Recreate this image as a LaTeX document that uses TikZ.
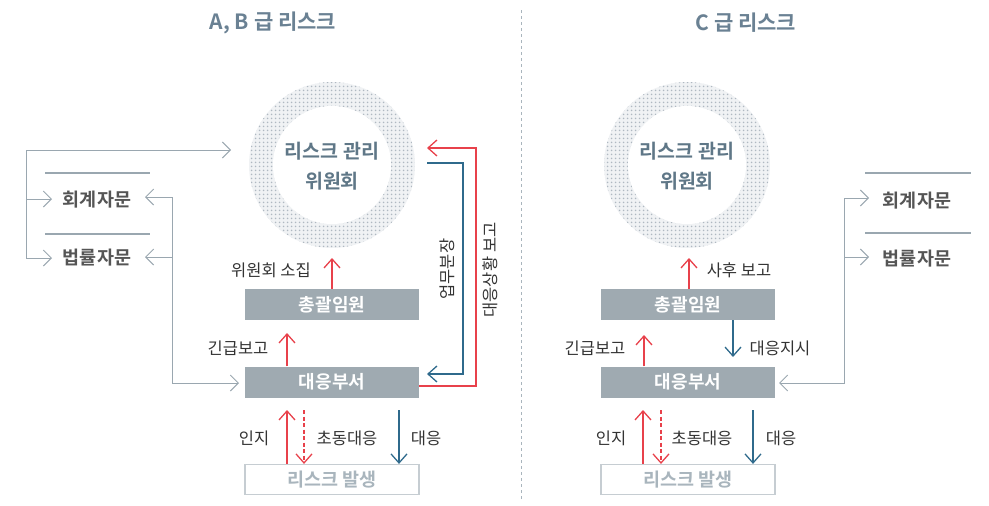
\documentclass[tikz,border=0pt]{standalone}
\usepackage{fontspec}
\setmainfont{Noto Sans CJK KR}[BoldFont={Noto Sans CJK KR Bold}]
\usetikzlibrary{arrows.meta,patterns.meta}
\definecolor{titleC}{HTML}{6A8193}
\definecolor{circC}{HTML}{5F7787}
\definecolor{boxC}{HTML}{9FAAB1}
\definecolor{redC}{HTML}{E8414B}
\definecolor{blueC}{HTML}{2F6A8C}
\definecolor{grayC}{HTML}{9AA7B0}
\definecolor{txtC}{HTML}{333333}
\definecolor{advC}{HTML}{555555}
\definecolor{riskC}{HTML}{A9B5BD}
\definecolor{riskB}{HTML}{C6CDD2}
\definecolor{dotC}{HTML}{AFB8C1}
\definecolor{ringC}{HTML}{F0F2F4}
\tikzset{
  tipg/.tip={Straight Barb[length=8pt,width=16pt]},
  tipc/.tip={Straight Barb[length=9pt,width=16pt]},
  titlenode/.style={font=\bfseries\fontsize{21}{24}\selectfont, text=titleC},
  circtext/.style={font=\bfseries\fontsize{19.5}{30}\selectfont, text=circC, align=center},
  ringbg/.style={circle, minimum size=166pt, inner sep=0pt, fill=ringC},
  ring/.style={circle, minimum size=166pt, inner sep=0pt, pattern={Dots[distance=4pt,radius=1.1pt]}, pattern color=dotC},
  hole/.style={circle, minimum size=118pt, inner sep=0pt, fill=white},
  graybox/.style={minimum width=174pt, minimum height=31pt, inner sep=0pt, fill=boxC, text=white, font=\bfseries\fontsize{18}{20}\selectfont},
  riskbox/.style={minimum width=174pt, minimum height=30pt, inner sep=0pt, fill=white, draw=riskB, line width=1.2pt, text=riskC, font=\bfseries\fontsize{18.5}{20}\selectfont},
  lbl/.style={text=txtC, font=\fontsize{16.5}{18}\selectfont, inner sep=0pt},
  adv/.style={text=advC, font=\bfseries\fontsize{18.5}{20}\selectfont, inner sep=0pt},
  gcon/.style={draw=grayC, line width=1pt},
  rarr/.style={draw=redC, line width=1.3pt, -tipc},
  barr/.style={draw=blueC, line width=1.3pt, -tipc},
  rule/.style={draw=grayC, line width=1.6pt},
}
\begin{document}
\begin{tikzpicture}[x=1pt,y=-1pt]
\useasboundingbox (0,0) rectangle (989,506);
% divider
\draw[draw=riskC, line width=1pt, dash pattern=on 3pt off 3pt] (521,10) coordinate (dv1) -- (521,500) coordinate (dv2);
% titles
\node[titlenode] (tL) at (273,23) {A, B 급 리스크};
\node[titlenode] (tR) at (746,23) {C 급 리스크};

% ===== LEFT =====
\node[ringbg] (ringbgL) at (332,165) {};
\node[ring] (ringL) at (332,165) {};
\node[hole] (holeL) at (332,165) {};
\node[circtext] (cL) at (332,166) {리스크 관리\\위원회};
\node[graybox] (gL) at (332,304.5) {총괄임원};
\node[graybox] (dL) at (332,382) {대응부서};
\node[riskbox] (rL) at (332,479.5) {리스크 발생};

\draw[rarr] (gL.north) -- (332,258);
\node[lbl] (l1) at (271,270) {위원회 소집};
\draw[rarr] (dL.north -| 287,0) -- (287,333);
\node[lbl] (l2) at (238,348) {긴급보고};
\draw[rarr] (rL.north -| 287,0) -- (287,410);
\node[lbl] (l3) at (254,438) {인지};
\draw[rarr, dash pattern=on 4pt off 2.5pt] (304,410) -- (rL.north -| 304,0);
\node[lbl] (l4) at (347,438) {초동대응};
\draw[barr] (399,410) -- (rL.north -| 399,0);
\node[lbl] (l5) at (426,438) {대응};

% blue & red loops
\coordinate (bs) at (427,163);
\coordinate (be) at (427,374);
\draw[barr] (bs) -- (463,163) -- (463,374) -- (be);
\coordinate (rs) at (dL.east |- 0,386);
\coordinate (re) at (427,148);
\draw[rarr] (rs) -- (476,386) -- (476,148) -- (re);
\node[lbl, rotate=90] (v1) at (447,269) {업무분장};
\node[lbl, rotate=90] (v2) at (490,270) {대응상황 보고};

% advisory left
\node[adv] (a1L) at (97,200) {회계자문};
\node[adv] (a2L) at (97,258) {법률자문};
\draw[rule] (45,173) -- (150,173);
\draw[rule] (45,234) -- (150,234);
\draw[gcon, tipg-tipg] (52,258) -- (26,258) -- (26,150) -- (231,150);
\draw[gcon, -tipg] (26,199) -- (52,199);
\draw[gcon, tipg-tipg] (145,197) -- (172,197) -- (172,383) -- (239,383);
\draw[gcon, -tipg] (172,257) -- (145,257);

% ===== RIGHT =====
\node[ringbg] (ringbgR) at (687,165) {};
\node[ring] (ringR) at (687,165) {};
\node[hole] (holeR) at (687,165) {};
\node[circtext] (cR) at (687,166) {리스크 관리\\위원회};
\node[graybox] (gR) at (688,304.5) {총괄임원};
\node[graybox] (dR) at (688,382) {대응부서};
\node[riskbox] (rR) at (688,479.5) {리스크 발생};

\draw[rarr] (gR.north -| 689,0) -- (689,258);
\node[lbl] (m1) at (739,270) {사후 보고};
\draw[rarr] (dR.north -| 644,0) -- (644,335);
\node[lbl] (m2) at (595,348) {긴급보고};
\draw[barr] (gR.south -| 733,0) -- (733,357);
\node[lbl] (m3) at (780,348) {대응지시};
\draw[rarr] (rR.north -| 643,0) -- (643,410);
\node[lbl] (m4) at (611,438) {인지};
\draw[rarr, dash pattern=on 4pt off 2.5pt] (661,410) -- (rR.north -| 661,0);
\node[lbl] (m5) at (702,438) {초동대응};
\draw[barr] (753,410) -- (rR.north -| 753,0);
\node[lbl] (m6) at (781,438) {대응};

\node[adv] (a1R) at (917,201) {회계자문};
\node[adv] (a2R) at (917,259) {법률자문};
\draw[rule] (865,173) -- (971,173);
\draw[rule] (865,233) -- (971,233);
\draw[gcon, tipg-tipg] (779,383) -- (844,383) -- (844,198) -- (869,198);
\draw[gcon, -tipg] (844,257) -- (869,257);
\end{tikzpicture}
\end{document}
